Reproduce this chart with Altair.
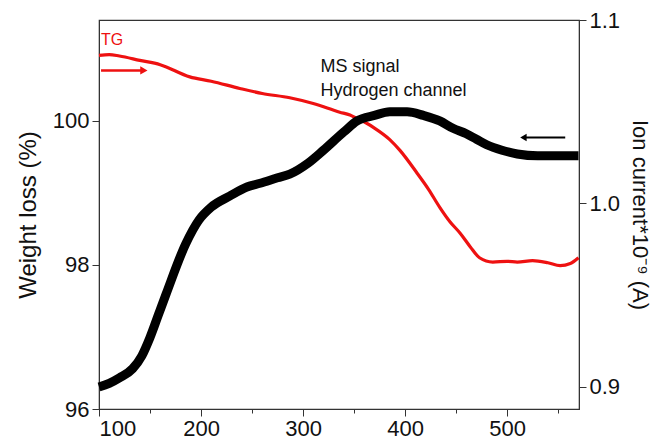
import altair as alt
import pandas as pd

# TG curve (weight %, left axis)
tg_temp = [100, 110, 120, 140, 160, 189, 210, 238, 260, 287, 310, 336, 346, 353, 362, 370,
           385, 395, 412, 423, 434, 444, 454, 464, 473, 486, 500, 510, 525, 540, 552, 562, 570]
tg_weight = [100.91, 100.92, 100.90, 100.84, 100.78, 100.61, 100.55, 100.45, 100.38, 100.32,
             100.24, 100.12, 100.08, 100.03, 99.97, 99.90, 99.74, 99.59, 99.27, 99.05, 98.80,
             98.60, 98.44, 98.25, 98.10, 98.04, 98.05, 98.04, 98.06, 98.03, 97.99, 98.02, 98.10]

# MS signal, hydrogen channel (ion current, right axis)
ms_temp = [100, 110, 120, 133, 142, 150, 158, 166, 185, 198, 210, 228, 245, 258, 275, 287,
           305, 320, 340, 353, 370, 385, 402, 418, 434, 447, 460, 470, 480, 495, 510, 530,
           550, 570]
ms_current = [0.900, 0.902, 0.905, 0.910, 0.917, 0.927, 0.939, 0.951, 0.978, 0.991, 0.998,
              1.004, 1.009, 1.011, 1.014, 1.016, 1.022, 1.029, 1.039, 1.045, 1.048, 1.050,
              1.050, 1.048, 1.045, 1.041, 1.038, 1.035, 1.032, 1.029, 1.027, 1.026, 1.026,
              1.026]

x_ticks = [100, 150, 200, 250, 300, 350, 400, 450, 500, 550]
left_ticks = [96, 98, 100]
right_ticks = [0.9, 1.0, 1.1]

FONT = "Liberation Sans"
LBL = 22
TTL = 24

tg_df = pd.DataFrame({"T": tg_temp, "W": tg_weight})
ms_df = pd.DataFrame({"T": ms_temp, "I": ms_current})

xscale = alt.Scale(domain=[100, 570.5], nice=False, zero=False)
x_axis = alt.Axis(
    values=x_ticks, title=None, grid=False,
    labelExpr="datum.value % 100 === 0 ? datum.label : ''",
    tickSize={"condition": {"test": "datum.value % 100 === 0", "value": 7}, "value": 4},
    labelFontSize=LBL, labelFont=FONT, labelColor="#111", domainColor="#333",
    tickColor="#333", labelPadding=2,
)
yl_scale = alt.Scale(domain=[96, 101.4], nice=False, zero=False)
yr_scale = alt.Scale(domain=[0.888, 1.1], nice=False, zero=False)

red = "#ee1111"

tg_line = alt.Chart(tg_df).mark_line(color=red, strokeWidth=3.2, interpolate="monotone").encode(
    x=alt.X("T:Q", scale=xscale, axis=x_axis),
    y=alt.Y("W:Q", scale=yl_scale, axis=alt.Axis(
        values=left_ticks, format="d", title="Weight loss (%)", grid=False, orient="left",
        labelFontSize=LBL, labelFont=FONT, labelColor="#111", titleFont=FONT,
        titleFontSize=TTL, titleFontWeight="normal", titleColor="#111", titlePadding=12,
        labelPadding=3, tickSize=7, domainColor="#333", tickColor="#333")),
)

tg_text = alt.Chart(pd.DataFrame({"T": [102], "W": [101.12], "t": ["TG"]})).mark_text(
    color=red, font=FONT, fontSize=16, align="left", baseline="middle"
).encode(x=alt.X("T:Q", scale=xscale), y=alt.Y("W:Q", scale=yl_scale), text="t:N")

tg_arrow = alt.Chart(pd.DataFrame({"T": [102], "T2": [143], "W": [100.70]})).mark_rule(
    color=red, strokeWidth=2.5
).encode(x=alt.X("T:Q", scale=xscale), x2="T2:Q", y=alt.Y("W:Q", scale=yl_scale))
tg_head = alt.Chart(pd.DataFrame({"T": [144], "W": [100.70]})).mark_point(
    shape="triangle-right", filled=True, color=red, size=70, opacity=1
).encode(x=alt.X("T:Q", scale=xscale), y=alt.Y("W:Q", scale=yl_scale))

left = alt.layer(tg_line, tg_text, tg_arrow, tg_head)

ms_line = alt.Chart(ms_df).mark_line(color="black", strokeWidth=9, interpolate="monotone").encode(
    x=alt.X("T:Q", scale=xscale),
    y=alt.Y("I:Q", scale=yr_scale, axis=alt.Axis(
        values=right_ticks, format=".1f", title="Ion current*10⁻⁹ (A)", grid=False,
        orient="right", labelFontSize=LBL, labelFont=FONT, labelColor="#111",
        titleFont=FONT, titleFontSize=22, titleFontWeight="normal", titleColor="#111",
        titleAngle=90, titlePadding=8, labelPadding=3, tickSize=7,
        domainColor="#333", tickColor="#333")),
)

ms_text = alt.Chart(pd.DataFrame({
    "T": [317, 317], "I": [1.0745, 1.0612], "t": ["MS signal", "Hydrogen channel"]
})).mark_text(color="#111", font=FONT, fontSize=18, align="left", baseline="middle").encode(
    x=alt.X("T:Q", scale=xscale), y=alt.Y("I:Q", scale=yr_scale), text="t:N")

ms_arrow = alt.Chart(pd.DataFrame({"T": [557], "T2": [518], "I": [1.036]})).mark_rule(
    color="black", strokeWidth=2
).encode(x=alt.X("T:Q", scale=xscale), x2="T2:Q", y=alt.Y("I:Q", scale=yr_scale))
ms_head = alt.Chart(pd.DataFrame({"T": [516], "I": [1.036]})).mark_point(
    shape="triangle-left", filled=True, color="black", size=55, opacity=1
).encode(x=alt.X("T:Q", scale=xscale), y=alt.Y("I:Q", scale=yr_scale))

right = alt.layer(ms_line, ms_text, ms_arrow, ms_head)

chart = alt.layer(left, right).resolve_scale(y="independent").properties(
    width=480, height=389,
    autosize=alt.AutoSizeParams(type="none"),
    padding={"left": 99, "top": 20, "right": 76, "bottom": 36},
    background="white",
).configure_view(stroke="#333", strokeWidth=1.2)

chart.save("out.html", embed_options={"renderer": "svg", "actions": False})
